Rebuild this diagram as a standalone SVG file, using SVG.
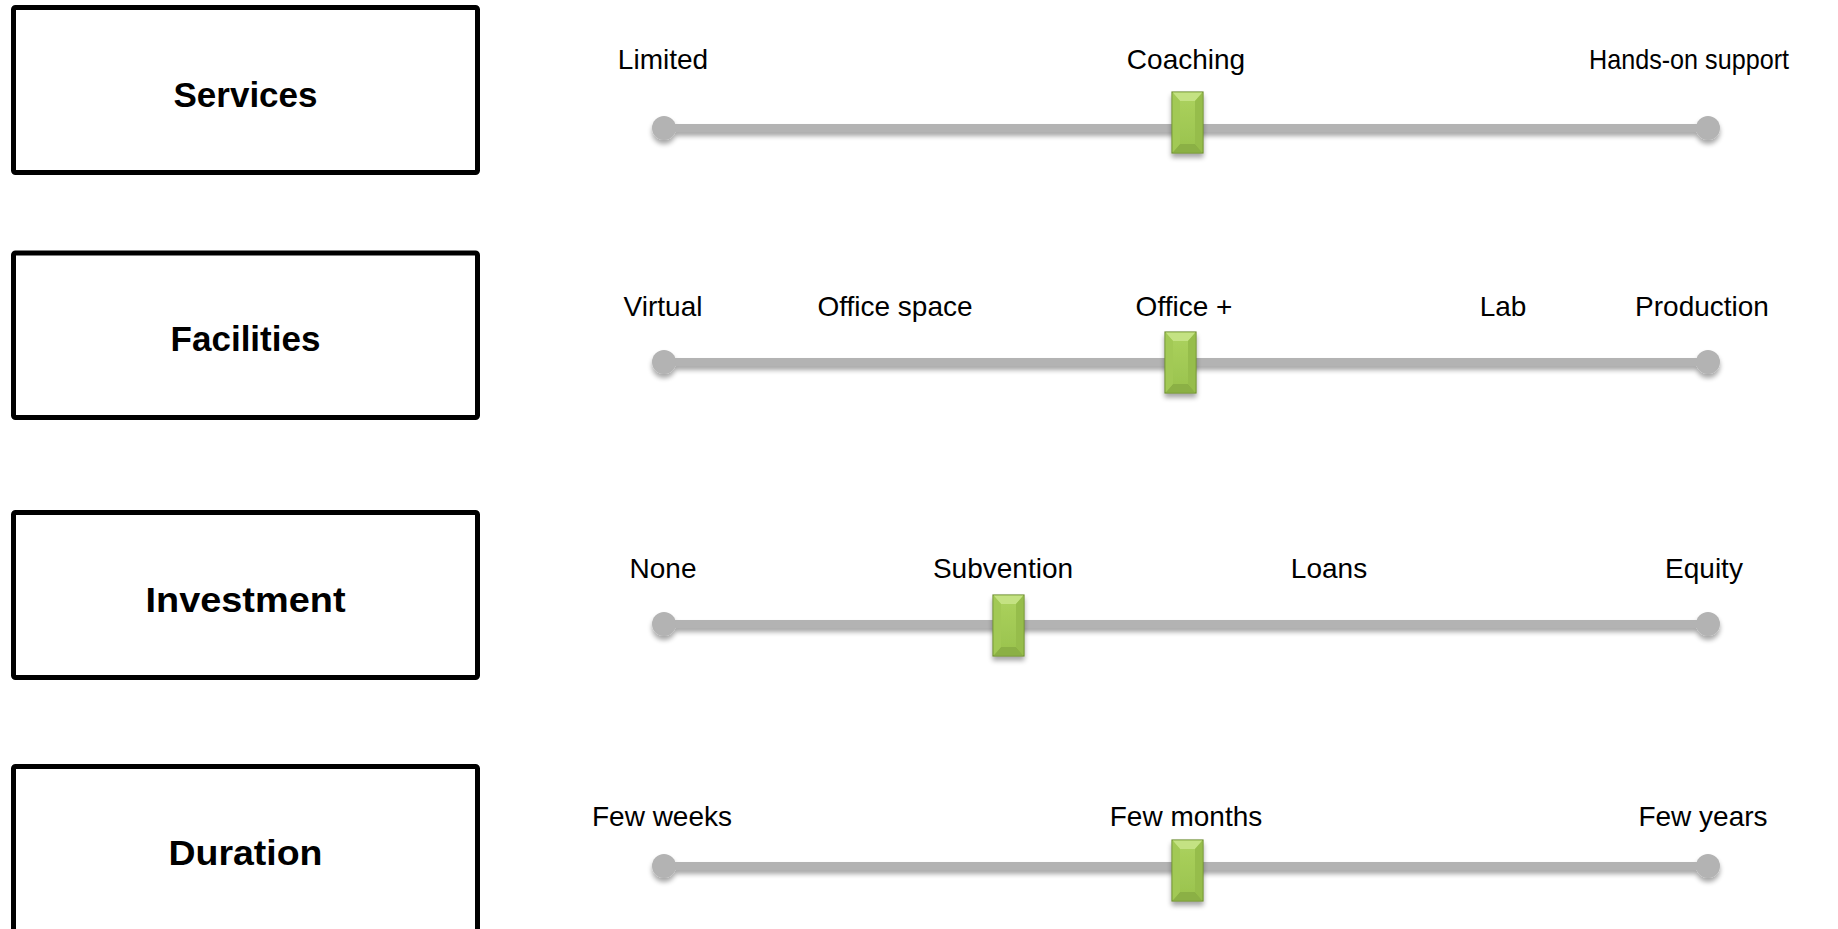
<svg xmlns="http://www.w3.org/2000/svg" xmlns:xlink="http://www.w3.org/1999/xlink" width="1838" height="929" viewBox="0 0 1838 929">
<style>
.box{fill:#fff;stroke:#000;stroke-width:5}
.title{font-family:"Liberation Sans",Arial,sans-serif;font-weight:bold;font-size:35px;fill:#000;text-anchor:middle}
.lbl{font-family:"Liberation Sans",Arial,sans-serif;font-size:28px;fill:#000;text-anchor:middle}
.track{stroke:#b3b3b3;stroke-width:8;fill:none}
.end{fill:#b3b3b3}
</style>
<defs>
<filter id="sh" x="-20%" y="-50%" width="140%" height="250%">
<feGaussianBlur in="SourceAlpha" stdDeviation="2.5"/>
<feOffset dx="0" dy="4" result="b"/>
<feComponentTransfer><feFuncA type="linear" slope="0.35"/></feComponentTransfer>
<feMerge><feMergeNode/><feMergeNode in="SourceGraphic"/></feMerge>
</filter>
<linearGradient id="face" x1="0" y1="0" x2="0" y2="1">
<stop offset="0" stop-color="#acd25e"/>
<stop offset="1" stop-color="#99c24d"/>
</linearGradient>
<g id="knob">
<rect x="0" y="0" width="31" height="61" fill="url(#face)" stroke="#6f8f30" stroke-width="1.2"/>
<polygon points="0.6,0.6 30.4,0.6 23,9 8,9" fill="#c4e283"/>
<polygon points="0.6,60.4 30.4,60.4 23,52 8,52" fill="#8bb044"/>
<polygon points="0.6,0.6 8,9 8,52 0.6,60.4" fill="#a2c955"/>
<polygon points="30.4,0.6 23,9 23,52 30.4,60.4" fill="#96bd4b"/>
</g>
<g id="track">
<line class="track" x1="664" y1="0" x2="1708" y2="0"/>
<circle class="end" cx="664" cy="0" r="12"/>
<circle class="end" cx="1708" cy="0" r="12"/>
</g>
</defs>

<g id="services">
<rect class="box" x="13.5" y="7.5" width="464" height="165" rx="2"/>
<text class="title" x="245.5" y="107">Services</text>
</g>
<g id="facilities">
<rect class="box" x="13.5" y="253" width="464" height="164.5" rx="2"/>
<text class="title" x="245.5" y="350.5">Facilities</text>
</g>
<g id="investment">
<rect class="box" x="13.5" y="512.5" width="464" height="165" rx="2"/>
<text class="title" x="245.5" y="611.5" textLength="200" lengthAdjust="spacingAndGlyphs">Investment</text>
</g>
<g id="duration">
<rect class="box" x="13.5" y="766.5" width="464" height="165" rx="2"/>
<text class="title" x="245.5" y="865" textLength="154" lengthAdjust="spacingAndGlyphs">Duration</text>
</g>

<g id="services-scale">
<use xlink:href="#track" y="128" filter="url(#sh)"/>
<use xlink:href="#knob" x="1172" y="92" filter="url(#sh)"/>
<text class="lbl" x="663" y="69">Limited</text>
<text class="lbl" x="1186" y="69">Coaching</text>
<text class="lbl" x="1689" y="69" textLength="200" lengthAdjust="spacingAndGlyphs">Hands-on support</text>
</g>
<g id="facilities-scale">
<use xlink:href="#track" y="362" filter="url(#sh)"/>
<use xlink:href="#knob" x="1165" y="332" filter="url(#sh)"/>
<text class="lbl" x="663" y="316">Virtual</text>
<text class="lbl" x="895" y="316">Office space</text>
<text class="lbl" x="1184" y="316">Office +</text>
<text class="lbl" x="1503" y="316">Lab</text>
<text class="lbl" x="1702" y="316">Production</text>
</g>
<g id="investment-scale">
<use xlink:href="#track" y="624" filter="url(#sh)"/>
<use xlink:href="#knob" x="993" y="595" filter="url(#sh)"/>
<text class="lbl" x="663" y="578">None</text>
<text class="lbl" x="1003" y="578">Subvention</text>
<text class="lbl" x="1329" y="578">Loans</text>
<text class="lbl" x="1704" y="578">Equity</text>
</g>
<g id="duration-scale">
<use xlink:href="#track" y="866" filter="url(#sh)"/>
<use xlink:href="#knob" x="1172" y="840" filter="url(#sh)"/>
<text class="lbl" x="662" y="826">Few weeks</text>
<text class="lbl" x="1186" y="826">Few months</text>
<text class="lbl" x="1703" y="826">Few years</text>
</g>
</svg>
